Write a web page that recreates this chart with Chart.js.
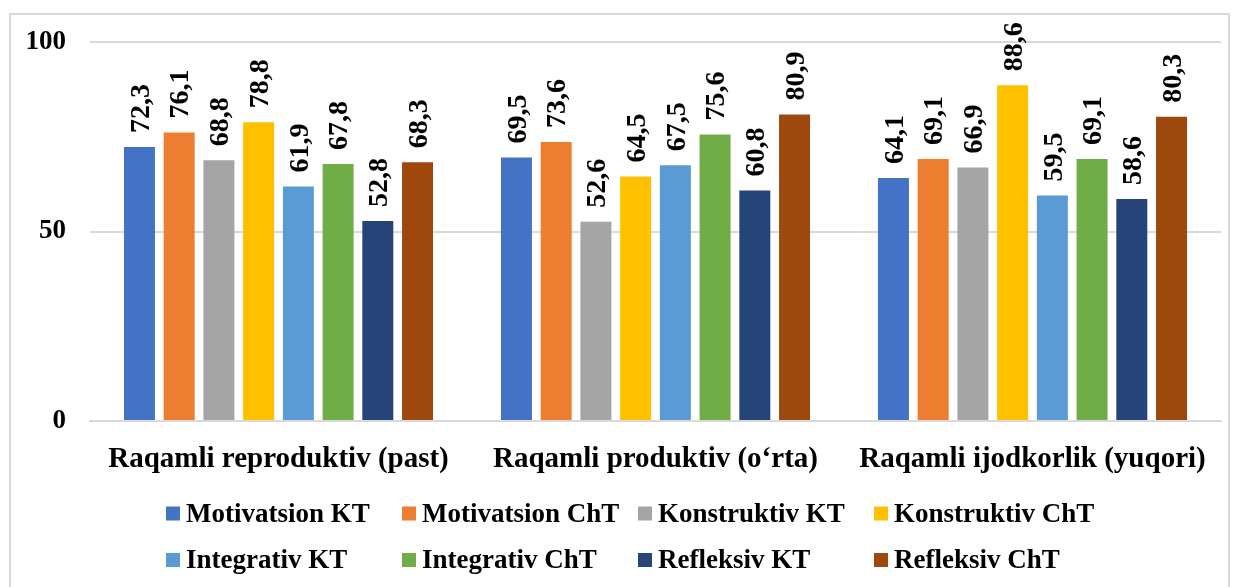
<!DOCTYPE html>
<html>
<head>
<meta charset="utf-8">
<script src="https://cdn.jsdelivr.net/npm/chart.js@4.4.0/dist/chart.umd.min.js"></script>
<style>
  html, body { margin: 0; padding: 0; background: #fff; }
  #wrap { position: relative; width: 1235px; height: 587px; overflow: hidden; }
  #frame { position: absolute; left: 9px; top: 13px; width: 1221px; height: 600px;
           border: 2px solid #d9d9d9; box-sizing: border-box; pointer-events: none; }
  #chart { position: absolute; left: 0; top: 0; }
</style>
</head>
<body>
<div id="wrap">
  <canvas id="chart" width="1235" height="587"></canvas>
  <div id="frame"></div>
</div>
<script>
// Chart data
const categories = ['Raqamli reproduktiv (past)', 'Raqamli produktiv (o‘rta)', 'Raqamli ijodkorlik (yuqori)'];
const seriesNames = ['Motivatsion KT', 'Motivatsion ChT', 'Konstruktiv KT', 'Konstruktiv ChT',
                     'Integrativ KT', 'Integrativ ChT', 'Refleksiv KT', 'Refleksiv ChT'];
const motivatsionKT  = [72.3, 69.5, 64.1];
const motivatsionChT = [76.1, 73.6, 69.1];
const konstruktivKT  = [68.8, 52.6, 66.9];
const konstruktivChT = [78.8, 64.5, 88.6];
const integrativKT   = [61.9, 67.5, 59.5];
const integrativChT  = [67.8, 75.6, 69.1];
const refleksivKT    = [52.8, 60.8, 58.6];
const refleksivChT   = [68.3, 80.9, 80.3];
const yTicks = [0, 50, 100];

const seriesValues = [motivatsionKT, motivatsionChT, konstruktivKT, konstruktivChT,
                      integrativKT, integrativChT, refleksivKT, refleksivChT];
const seriesColors = ['#4472C4', '#ED7D31', '#A5A5A5', '#FFC000',
                      '#5B9BD5', '#70AD47', '#264478', '#9E480E'];

const FONT = '"Liberation Serif", "Times New Roman", serif';

// Rotated value labels above each bar
const barValueLabels = {
  id: 'barValueLabels',
  afterDatasetsDraw(chart) {
    const ctx = chart.ctx;
    ctx.save();
    ctx.font = 'bold 28px ' + FONT;
    ctx.fillStyle = '#000';
    ctx.textAlign = 'left';
    ctx.textBaseline = 'middle';
    chart.data.datasets.forEach((ds, i) => {
      chart.getDatasetMeta(i).data.forEach((bar, j) => {
        const text = ds.data[j].toFixed(1).replace('.', ',');
        ctx.save();
        ctx.translate(bar.x + 2, bar.y - 14);
        ctx.rotate(-Math.PI / 2);
        ctx.fillText(text, 0, 0);
        ctx.restore();
      });
    });
    ctx.restore();
  }
};

// Legend laid out in fixed columns (like the Excel original)
const gridLegend = {
  id: 'gridLegend',
  afterDraw(chart, args, opts) {
    const ctx = chart.ctx;
    ctx.save();
    ctx.font = opts.font;
    ctx.textBaseline = 'alphabetic';
    ctx.textAlign = 'left';
    chart.data.datasets.forEach((ds, i) => {
      const col = i % opts.columns.length;
      const row = Math.floor(i / opts.columns.length);
      const x = opts.columns[col];
      const y = opts.rows[row];
      ctx.fillStyle = ds.backgroundColor;
      ctx.fillRect(x, y - opts.box / 2, opts.box, opts.box);
      ctx.fillStyle = '#000';
      ctx.fillText(ds.label, x + opts.box + opts.gap, y + 8);
    });
    ctx.restore();
  }
};

new Chart(document.getElementById('chart'), {
  type: 'bar',
  data: {
    labels: categories,
    datasets: seriesNames.map((name, i) => ({
      label: name,
      data: seriesValues[i],
      backgroundColor: seriesColors[i],
      categoryPercentage: 0.843,
      barPercentage: 0.78
    }))
  },
  options: {
    responsive: false,
    animation: false,
    events: [],
    layout: { padding: { top: 42, right: 14, left: 0, bottom: 0 } },
    plugins: {
      legend: { display: false },
      tooltip: { enabled: false },
      gridLegend: {
        columns: [166, 402, 638, 874],
        rows: [513.5, 560],
        box: 14,
        gap: 6,
        font: 'bold 27px ' + FONT
      }
    },
    scales: {
      x: {
        grid: { display: false, drawTicks: false },
        border: { display: true, color: '#d9d9d9', width: 2 },
        ticks: {
          color: '#000',
          padding: 21,
          maxRotation: 0,
          autoSkip: false,
          font: { family: FONT, size: 29, weight: 'bold' }
        },
        afterFit(scale) { scale.height = 166; }
      },
      y: {
        min: 0,
        max: 100,
        afterBuildTicks(scale) { scale.ticks = yTicks.map(v => ({ value: v })); },
        grid: { color: '#d9d9d9', lineWidth: 2, drawTicks: false },
        border: { display: false },
        ticks: {
          color: '#000',
          padding: 24,
          font: { family: FONT, size: 27, weight: 'bold' }
        },
        afterFit(scale) { scale.width = 90; }
      }
    }
  },
  plugins: [barValueLabels, gridLegend]
});
</script>
</body>
</html>
